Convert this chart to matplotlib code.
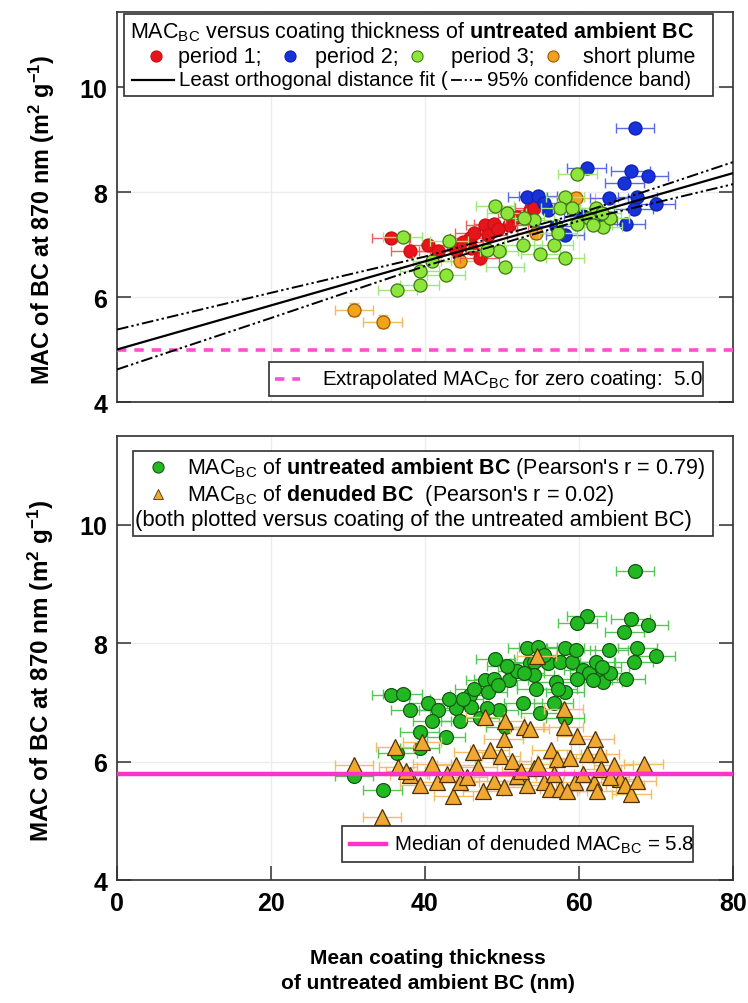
import matplotlib
matplotlib.use("Agg")
import matplotlib.pyplot as plt
from matplotlib.patches import Rectangle

plt.rcParams['font.family'] = ['Liberation Sans', 'DejaVu Sans']
plt.rcParams['mathtext.fontset'] = 'custom'
plt.rcParams['mathtext.rm'] = 'Liberation Sans'
plt.rcParams['mathtext.bf'] = 'Liberation Sans:bold'
plt.rcParams['mathtext.it'] = 'Liberation Sans:italic'

# ---------------- data ----------------
p1_x = [35.6, 38.1, 40.4, 41.7, 44.0, 45.8, 46.4, 47.8, 48.9, 47.1, 48.2, 50.9, 52.0, 53.6, 54.2, 46.0, 49.5, 45.0]
p1_y = [7.13, 6.87, 6.99, 6.87, 6.90, 7.12, 7.22, 7.37, 7.40, 6.74, 7.18, 7.37, 7.53, 7.66, 7.69, 6.93, 7.30, 7.05]

p2_x = [67.3, 61.0, 66.7, 69.0, 65.9, 53.3, 54.7, 63.9, 67.6, 67.1, 70.0, 66.1, 56.0, 58.2, 60.5, 57.0, 55.5, 62.5]
p2_y = [9.22, 8.46, 8.41, 8.30, 8.18, 7.91, 7.93, 7.88, 7.91, 7.68, 7.78, 7.40, 7.66, 7.18, 7.55, 7.35, 7.80, 7.45]

p3_x = [37.1, 36.4, 39.3, 39.3, 42.7, 43.1, 49.1, 50.6, 49.6, 50.4, 52.7, 55.0, 56.7, 58.2, 57.3,
        54.2, 58.2, 57.6, 59.1, 59.8, 61.3, 62.2, 63.1, 64.0, 61.8, 52.9, 48.0, 40.9, 59.8, 63.0]
p3_y = [7.15, 6.14, 6.23, 6.50, 6.41, 7.06, 7.74, 7.61, 6.88, 6.58, 6.99, 6.82, 6.99, 6.74, 7.22,
        7.47, 7.91, 7.69, 7.69, 8.34, 7.50, 7.69, 7.34, 7.50, 7.37, 7.50, 6.90, 6.68, 7.40, 7.60]

plume_x = [30.8, 34.5, 44.6, 54.4, 59.6]
plume_y = [5.76, 5.53, 6.69, 7.22, 7.88]

den_x = [30.8, 34.4, 36.1, 36.5, 39.6, 38.0, 39.3, 40.9, 41.5, 42.8, 43.7, 44.5, 46.3, 46.9, 47.8,
         48.4, 48.9, 49.9, 50.2, 50.4, 50.2, 51.3, 51.9, 52.8, 53.6, 53.2, 54.1, 54.7, 55.4, 56.2,
         56.4, 57.1, 57.5, 58.0, 58.0, 58.8, 59.7, 59.5, 61.0, 62.1, 61.9, 62.7, 62.9, 62.3, 65.3,
         66.0, 66.8, 67.5, 68.4, 54.5, 45.5, 52.5, 56.8, 60.5, 64.0, 47.5, 58.5, 44.0, 37.5, 64.5]
den_y = [5.94, 5.06, 6.24, 5.91, 6.33, 5.78, 5.60, 5.96, 5.65, 5.79, 5.43, 5.65, 6.16, 5.91, 6.75,
         6.19, 5.68, 6.10, 6.38, 6.69, 5.57, 6.02, 5.76, 6.58, 6.55, 5.60, 5.90, 5.96, 5.65, 5.54,
         6.19, 6.05, 5.54, 6.89, 6.58, 6.07, 6.44, 5.65, 6.13, 6.38, 5.65, 6.13, 5.88, 5.51, 5.71,
         5.60, 5.45, 5.68, 5.96, 7.79, 5.75, 5.85, 5.80, 5.80, 5.75, 5.50, 5.50, 5.95, 5.85, 5.95]

fit_x = [0, 80]
fit_y = [5.0, 8.36]
band_x = [0, 20, 40, 60, 80]
band_hi = [5.38, 6.08, 6.77, 7.59, 8.57]
band_lo = [4.62, 5.60, 6.59, 7.45, 8.15]
extrap_mac = 5.0
median_den = 5.8

x_ticks = [0, 20, 40, 60, 80]
y_ticks = [4, 6, 8, 10]

# ---------------- figure ----------------
fig = plt.figure(figsize=(7.48, 10.04), dpi=100)
ax1 = fig.add_axes([0.1564, 0.5986, 0.8235, 0.3884])
ax2 = fig.add_axes([0.1564, 0.1222, 0.8235, 0.4425])

for ax, top in ((ax1, 4 + 390 / 52.5), (ax2, 4 + 444.3 / 59.3)):
    ax.set_xlim(0, 80)
    ax.set_ylim(4, top)
    ax.set_xticks(x_ticks)
    ax.set_yticks(y_ticks)
    ax.grid(True, color='#ececec', lw=1.0, zorder=0)
    ax.set_axisbelow(True)
    for s in ax.spines.values():
        s.set_linewidth(1.2)
        s.set_color('#303030')
    ax.tick_params(axis='y', direction='in', length=10, width=1.1, right=True,
                   labelsize=18, pad=7, color='#303030')
    for lab in ax.get_yticklabels():
        lab.set_fontweight('bold')

ax1.tick_params(axis='x', bottom=False, labelbottom=False)
ax2.tick_params(axis='x', direction='in', length=10, width=1.1, labelsize=18, pad=8,
                color='#303030')
for lab in ax2.get_xticklabels():
    lab.set_fontweight('bold')


def draw(ax, x, y, fc, ec, errc, marker='o', ms=9.4, xerr=2.5, yerr=None, z=3):
    ax.errorbar(x, y, xerr=xerr, yerr=yerr, fmt='none', ecolor=errc, elinewidth=1.0,
                capsize=3.5, capthick=1.0, zorder=z)
    ax.plot(x, y, ls='none', marker=marker, ms=ms, mfc=fc, mec=ec, mew=0.9, zorder=z + 0.5)


# ---- top panel ----
draw(ax1, plume_x, plume_y, '#f2a21e', '#9a5c00', '#f3b860', yerr=0.12, z=3)
draw(ax1, p1_x, p1_y, '#e8141c', '#c81010', '#f06060', z=4)
draw(ax1, p2_x, p2_y, '#1632d8', '#1020b0', '#5a6ae8', z=4)
draw(ax1, p3_x, p3_y, '#8ee63c', '#3d7a10', '#9ee878', z=5)

ax1.plot(fit_x, fit_y, color='black', lw=1.6, zorder=7)
dd = (0, (6, 1.6, 1.2, 1.6, 1.2, 1.6))
ax1.plot(band_x, band_hi, color='black', lw=1.4, ls=dd, zorder=7)
ax1.plot(band_x, band_lo, color='black', lw=1.4, ls=dd, zorder=7)
ax1.axhline(extrap_mac, color='#ff4fcf', lw=2.6, ls=(0, (2.6, 2.2)), zorder=6)

T = ax1.transAxes
ax1.add_patch(Rectangle((0.0114, 0.785), 0.9561, 0.21, transform=T, fc='white',
                        ec='#303030', lw=1.2, zorder=10))
fs = 15.5
fs3 = 14.8
fs_small = 14.8
ax1.text(0.021, 0.949, r'MAC$_{\mathrm{BC}}$ versus coating thickness of $\mathbf{untreated\ ambient\ BC}$',
         transform=T, fontsize=fs, va='center', ha='left', zorder=11)
for mx, tx, lab, fc, ec in ((0.0627, 0.0998, 'period 1;', '#e8141c', '#c81010'),
                            (0.281, 0.322, 'period 2;', '#1632d8', '#1020b0'),
                            (0.487, 0.542, 'period 3;', '#8ee63c', '#3d7a10'),
                            (0.7086, 0.756, 'short plume', '#f2a21e', '#9a5c00')):
    ax1.plot([mx], [0.887], transform=T, marker='o', ms=8, mfc=fc, mec=ec, mew=0.8,
             ls='none', zorder=11, clip_on=False)
    ax1.text(tx, 0.887, lab, transform=T, fontsize=fs, va='center', ha='left', zorder=11)

# row 3: laid out sequentially
ry = 0.826
ax1.plot([0.0244, 0.0933], [ry, ry], transform=T, color='black', lw=1.6, zorder=11)
t1 = ax1.text(0.1006, ry, 'Least orthogonal distance fit (', transform=T, fontsize=fs3,
              va='center', ha='left', zorder=11)
fig.canvas.draw()
r = fig.canvas.get_renderer()
bb = t1.get_window_extent(r).transformed(T.inverted())
s0 = bb.x1 + 0.006
s1 = s0 + 0.05
ax1.plot([s0, s1], [ry, ry], transform=T, color='black', lw=1.3, ls=dd, zorder=11)
ax1.text(s1 + 0.008, ry, '95% confidence band)', transform=T, fontsize=fs3, va='center',
         ha='left', zorder=11)

ax1.add_patch(Rectangle((0.247, 0.016), 0.704, 0.087, transform=T, fc='white',
                        ec='#303030', lw=1.2, zorder=10))
ax1.plot([0.256, 0.297], [0.059, 0.059], transform=T, color='#ff4fcf', lw=2.6,
         ls=(0, (2.6, 2.2)), zorder=11)
ax1.text(0.333, 0.059, r'Extrapolated MAC$_{\mathrm{BC}}$ for zero coating:  5.0', transform=T,
         fontsize=fs_small, va='center', ha='left', zorder=11)

# ---- bottom panel ----
all_x = p1_x + p2_x + p3_x + plume_x
all_y = p1_y + p2_y + p3_y + plume_y
draw(ax2, den_x, den_y, '#f0a830', '#4a300c', '#f4bc64', marker='^', ms=11, z=4)
draw(ax2, all_x, all_y, '#22b822', '#145a14', '#52c852', ms=10, z=3)
ax2.axhline(median_den, color='#ff33cc', lw=3.2, zorder=6)

T2 = ax2.transAxes
ax2.add_patch(Rectangle((0.026, 0.7756), 0.9415, 0.1913, transform=T2, fc='white',
                        ec='#303030', lw=1.2, zorder=10))
ax2.plot([0.066], [0.930], transform=T2, marker='o', ms=8, mfc='#22b822', mec='#145a14',
         mew=0.8, ls='none', zorder=11)
ax2.text(0.113, 0.930, r"MAC$_{\mathrm{BC}}$ of $\mathbf{untreated\ ambient\ BC}$ (Pearson's r = 0.79)",
         transform=T2, fontsize=fs, va='center', ha='left', zorder=11)
ax2.plot([0.066], [0.869], transform=T2, marker='^', ms=7, mfc='#f0a830', mec='#4a300c',
         mew=0.6, ls='none', zorder=11)
ax2.text(0.113, 0.869, r"MAC$_{\mathrm{BC}}$ of $\mathbf{denuded\ BC}$  (Pearson's r = 0.02)",
         transform=T2, fontsize=fs, va='center', ha='left', zorder=11)
ax2.text(0.029, 0.813, '(both plotted versus coating of the untreated ambient BC)',
         transform=T2, fontsize=15.8, va='center', ha='left', zorder=11)

ax2.add_patch(Rectangle((0.365, 0.042), 0.570, 0.081, transform=T2, fc='white',
                        ec='#303030', lw=1.2, zorder=10))
ax2.plot([0.378, 0.437], [0.082, 0.082], transform=T2, color='#ff33cc', lw=3.2, zorder=11)
ax2.text(0.450, 0.082, r'Median of denuded MAC$_{\mathrm{BC}}$ = 5.8', transform=T2,
         fontsize=fs_small, va='center', ha='left', zorder=11)

# ---- axis labels ----
ylab = r'MAC of BC at 870 nm (m$^{\mathbf{2}}$ g$^{\mathbf{-1}}$)'
fig.text(0.056, 1 - 220 / 1004, ylab, rotation=90, fontsize=16.8, fontweight='bold',
         ha='center', va='center')
fig.text(0.055, 1 - 671 / 1004, ylab, rotation=90, fontsize=17.5, fontweight='bold',
         ha='center', va='center')
fig.text(428 / 748, 1 - 971 / 1004, 'Mean coating thickness\nof untreated ambient BC (nm)',
         fontsize=15, fontweight='bold', ha='center', va='center', linespacing=1.45)

fig.savefig('out.png', dpi=100)
